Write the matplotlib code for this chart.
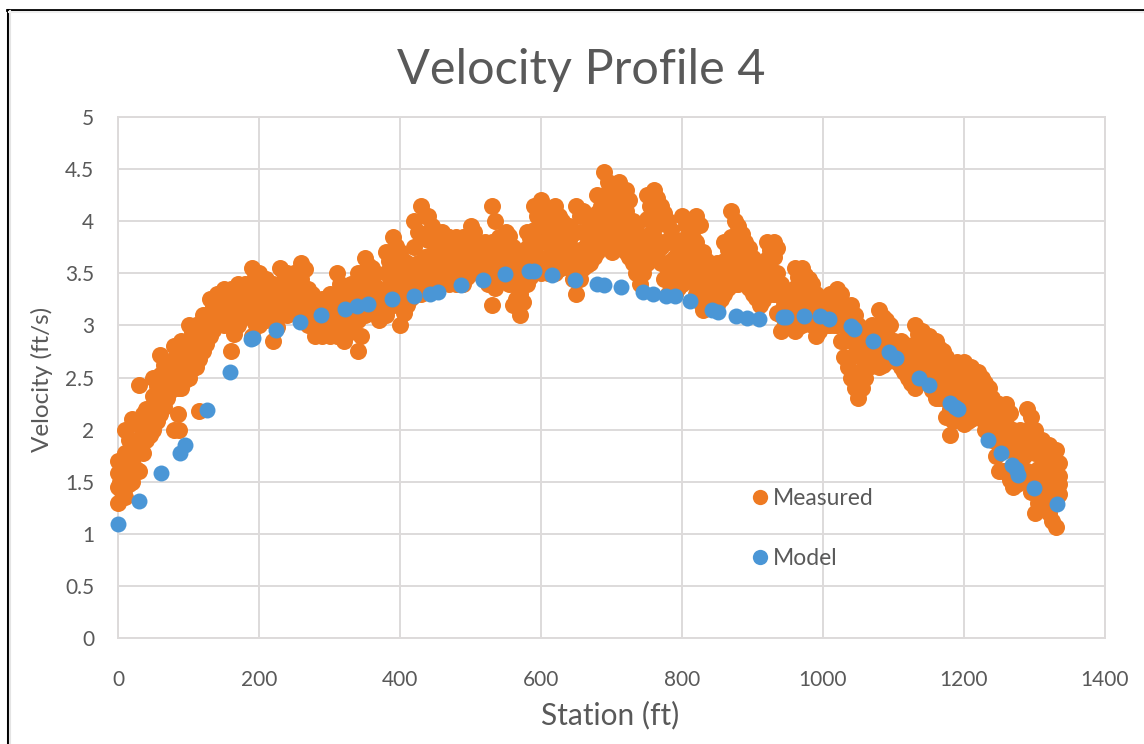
import matplotlib
matplotlib.use("Agg")
import matplotlib.pyplot as plt
from matplotlib.lines import Line2D

title = "Velocity Profile 4"
x_label = "Station (ft)"
y_label = "Velocity (ft/s)"
x_ticks = [0, 200, 400, 600, 800, 1000, 1200, 1400]
y_ticks = [0, 0.5, 1, 1.5, 2, 2.5, 3, 3.5, 4, 4.5, 5]
y_tick_labels = ["0", "0.5", "1", "1.5", "2", "2.5", "3", "3.5", "4", "4.5", "5"]

measured_station = [
    0, 10, 20, 30, 40, 50, 60, 70, 80, 90,
    100, 110, 120, 130, 140, 150, 160, 170, 180, 190,
    200, 210, 220, 230, 240, 250, 260, 270, 280, 290,
    300, 310, 320, 330, 340, 350, 360, 370, 380, 390,
    400, 410, 420, 430, 440, 450, 460, 470, 480, 490,
    500, 510, 520, 530, 540, 550, 560, 570, 580, 590,
    600, 610, 620, 630, 640, 650, 660, 670, 680, 690,
    700, 710, 720, 730, 740, 750, 760, 770, 780, 790,
    800, 810, 820, 830, 840, 850, 860, 870, 880, 890,
    900, 910, 920, 930, 940, 950, 960, 970, 980, 990,
    1000, 1010, 1020, 1030, 1040, 1050, 1060, 1070, 1080, 1090,
    1100, 1110, 1120, 1130, 1140, 1150, 1160, 1170, 1180, 1190,
    1200, 1210, 1220, 1230, 1240, 1250, 1260, 1270, 1280, 1290,
    1300, 1310, 1320, 1330,
]
measured_low = [
    1.30, 1.35, 1.50, 1.60, 1.90, 2.00, 2.15, 2.30, 2.00, 2.40,
    2.50, 2.60, 2.75, 2.90, 3.00, 3.00, 2.75, 3.00, 3.10, 2.90,
    3.00, 3.05, 2.85, 3.10, 3.10, 3.15, 3.20, 3.00, 2.90, 2.90,
    2.90, 2.90, 2.85, 3.00, 2.75, 3.10, 3.20, 3.05, 3.10, 3.20,
    3.00, 3.20, 3.30, 3.30, 3.35, 3.35, 3.50, 3.40, 3.40, 3.40,
    3.50, 3.50, 3.50, 3.20, 3.45, 3.50, 3.20, 3.10, 3.40, 3.50,
    3.50, 3.50, 3.50, 3.60, 3.55, 3.30, 3.55, 3.60, 3.70, 3.80,
    3.70, 3.80, 3.70, 3.60, 3.40, 3.60, 3.70, 3.60, 3.30, 3.30,
    3.40, 3.50, 3.30, 3.15, 3.20, 3.20, 3.30, 3.40, 3.40, 3.40,
    3.30, 3.20, 3.30, 3.30, 2.95, 3.00, 2.95, 3.00, 3.10, 2.90,
    3.00, 3.00, 3.00, 2.70, 2.50, 2.30, 2.50, 2.70, 2.60, 2.65,
    2.70, 2.60, 2.50, 2.40, 2.50, 2.45, 2.30, 2.30, 1.95, 2.20,
    2.05, 2.10, 2.20, 2.00, 1.90, 1.60, 1.60, 1.45, 1.50, 1.60,
    1.20, 1.40, 1.20, 1.07,
]
measured_lower_mid = [
    1.45, 1.55, 1.70, 1.85, 2.00, 2.15, 2.30, 2.42, 2.50, 2.55,
    2.65, 2.75, 2.90, 3.00, 3.08, 3.12, 3.05, 3.12, 3.18, 3.10,
    3.15, 3.18, 3.05, 3.22, 3.20, 3.25, 3.30, 3.10, 3.00, 3.02,
    3.02, 3.05, 3.00, 3.10, 3.05, 3.25, 3.30, 3.15, 3.25, 3.35,
    3.25, 3.30, 3.45, 3.50, 3.55, 3.50, 3.60, 3.52, 3.50, 3.52,
    3.60, 3.58, 3.60, 3.45, 3.55, 3.60, 3.40, 3.30, 3.55, 3.65,
    3.65, 3.62, 3.65, 3.70, 3.65, 3.55, 3.68, 3.70, 3.85, 3.95,
    3.85, 3.95, 3.85, 3.72, 3.55, 3.75, 3.85, 3.75, 3.50, 3.45,
    3.55, 3.60, 3.50, 3.30, 3.28, 3.30, 3.42, 3.55, 3.55, 3.50,
    3.40, 3.32, 3.42, 3.45, 3.10, 3.08, 3.10, 3.15, 3.20, 3.00,
    3.06, 3.08, 3.10, 2.85, 2.70, 2.55, 2.65, 2.78, 2.75, 2.75,
    2.76, 2.68, 2.60, 2.55, 2.65, 2.58, 2.45, 2.45, 2.20, 2.35,
    2.25, 2.28, 2.32, 2.15, 2.05, 1.85, 1.80, 1.65, 1.68, 1.78,
    1.50, 1.55, 1.45, 1.35,
]
measured_upper_mid = [
    1.58, 1.78, 1.90, 2.10, 2.10, 2.32, 2.52, 2.55, 2.68, 2.72,
    2.85, 2.88, 3.00, 3.12, 3.20, 3.25, 3.22, 3.28, 3.30, 3.32,
    3.35, 3.32, 3.25, 3.40, 3.36, 3.38, 3.45, 3.24, 3.14, 3.15,
    3.16, 3.25, 3.16, 3.26, 3.28, 3.48, 3.44, 3.26, 3.50, 3.62,
    3.50, 3.46, 3.75, 3.85, 3.82, 3.66, 3.76, 3.70, 3.68, 3.70,
    3.80, 3.68, 3.70, 3.80, 3.72, 3.78, 3.60, 3.52, 3.74, 3.92,
    3.95, 3.84, 3.92, 3.86, 3.82, 3.90, 3.90, 3.86, 4.08, 4.25,
    4.08, 4.20, 4.10, 3.88, 3.72, 4.02, 4.10, 3.98, 3.80, 3.66,
    3.82, 3.76, 3.80, 3.52, 3.40, 3.46, 3.62, 3.85, 3.78, 3.66,
    3.54, 3.46, 3.64, 3.66, 3.28, 3.20, 3.36, 3.38, 3.34, 3.18,
    3.14, 3.20, 3.24, 3.06, 3.00, 2.82, 2.82, 2.90, 2.98, 2.92,
    2.82, 2.78, 2.72, 2.82, 2.82, 2.76, 2.68, 2.62, 2.45, 2.52,
    2.48, 2.46, 2.46, 2.32, 2.20, 2.10, 2.05, 1.85, 1.85, 2.00,
    1.78, 1.75, 1.68, 1.60,
]
measured_high = [
    1.70, 2.00, 2.10, 2.43, 2.20, 2.50, 2.72, 2.65, 2.80, 2.85,
    3.00, 3.00, 3.10, 3.25, 3.30, 3.35, 3.35, 3.40, 3.40, 3.55,
    3.50, 3.45, 3.40, 3.55, 3.50, 3.50, 3.60, 3.35, 3.25, 3.25,
    3.30, 3.50, 3.30, 3.40, 3.50, 3.65, 3.55, 3.35, 3.70, 3.85,
    3.70, 3.60, 4.00, 4.15, 4.05, 3.80, 3.90, 3.85, 3.85, 3.85,
    3.95, 3.75, 3.80, 4.15, 3.85, 3.90, 3.75, 3.70, 3.90, 4.15,
    4.20, 4.00, 4.15, 4.00, 3.95, 4.15, 4.10, 4.00, 4.25, 4.47,
    4.30, 4.38, 4.30, 4.00, 3.85, 4.25, 4.30, 4.15, 4.00, 3.80,
    4.05, 3.90, 4.05, 3.70, 3.50, 3.60, 3.80, 4.10, 3.95, 3.80,
    3.65, 3.60, 3.80, 3.80, 3.40, 3.30, 3.55, 3.55, 3.45, 3.30,
    3.20, 3.30, 3.35, 3.20, 3.20, 3.00, 2.95, 3.00, 3.15, 3.05,
    2.85, 2.85, 2.80, 3.00, 2.95, 2.90, 2.85, 2.75, 2.65, 2.65,
    2.65, 2.60, 2.55, 2.45, 2.30, 2.25, 2.25, 2.00, 2.00, 2.20,
    2.00, 1.90, 1.85, 1.80,
]

# Second sweep of measured points, lying between the stations above
between_station = [
    5, 15, 25, 35, 45, 55, 65, 75, 85, 95,
    105, 115, 125, 135, 145, 155, 165, 175, 185, 195,
    205, 215, 225, 235, 245, 255, 265, 275, 285, 295,
    305, 315, 325, 335, 345, 355, 365, 375, 385, 395,
    405, 415, 425, 435, 445, 455, 465, 475, 485, 495,
    505, 515, 525, 535, 545, 555, 565, 575, 585, 595,
    605, 615, 625, 635, 645, 655, 665, 675, 685, 695,
    705, 715, 725, 735, 745, 755, 765, 775, 785, 795,
    805, 815, 825, 835, 845, 855, 865, 875, 885, 895,
    905, 915, 925, 935, 945, 955, 965, 975, 985, 995,
    1005, 1015, 1025, 1035, 1045, 1055, 1065, 1075, 1085, 1095,
    1105, 1115, 1125, 1135, 1145, 1155, 1165, 1175, 1185, 1195,
    1205, 1215, 1225, 1235, 1245, 1255, 1265, 1275, 1285, 1295,
    1305, 1315, 1325, 1335,
]
between_a = [
    1.40, 1.48, 1.62, 1.78, 1.95, 2.08, 2.22, 2.38, 2.40, 2.48,
    2.58, 2.68, 2.82, 2.96, 3.04, 3.06, 2.92, 3.06, 3.12, 3.02,
    3.06, 3.10, 2.98, 3.14, 3.15, 3.20, 3.12, 3.05, 2.96, 2.95,
    2.95, 2.96, 2.92, 3.04, 2.90, 3.16, 3.24, 3.10, 3.18, 3.26,
    3.12, 3.26, 3.36, 3.40, 3.42, 3.42, 3.52, 3.44, 3.44, 3.46,
    3.54, 3.52, 3.40, 3.36, 3.48, 3.40, 3.25, 3.22, 3.46, 3.55,
    3.54, 3.56, 3.54, 3.62, 3.45, 3.45, 3.58, 3.66, 3.76, 3.78,
    3.74, 3.76, 3.66, 3.50, 3.50, 3.64, 3.66, 3.45, 3.36, 3.36,
    3.46, 3.42, 3.22, 3.18, 3.22, 3.25, 3.36, 3.40, 3.42, 3.36,
    3.26, 3.24, 3.30, 3.12, 2.98, 2.98, 2.98, 3.05, 3.00, 2.95,
    3.00, 3.00, 2.85, 2.60, 2.40, 2.40, 2.60, 2.65, 2.62, 2.68,
    2.65, 2.55, 2.45, 2.45, 2.48, 2.38, 2.30, 2.12, 2.08, 2.12,
    2.08, 2.15, 2.10, 1.95, 1.75, 1.60, 1.52, 1.48, 1.55, 1.40,
    1.30, 1.30, 1.12, 1.38,
]
between_b = [
    1.55, 1.68, 1.80, 1.98, 2.05, 2.24, 2.40, 2.50, 2.60, 2.64,
    2.74, 2.82, 2.96, 3.06, 3.14, 3.18, 3.14, 3.20, 3.24, 3.20,
    3.24, 3.24, 3.18, 3.30, 3.28, 3.32, 3.30, 3.16, 3.08, 3.08,
    3.10, 3.14, 3.08, 3.18, 3.18, 3.36, 3.38, 3.20, 3.38, 3.48,
    3.38, 3.40, 3.60, 3.66, 3.68, 3.60, 3.66, 3.62, 3.60, 3.62,
    3.70, 3.62, 3.60, 3.60, 3.64, 3.66, 3.50, 3.44, 3.64, 3.78,
    3.80, 3.74, 3.78, 3.78, 3.72, 3.72, 3.78, 3.80, 3.96, 4.10,
    3.98, 4.08, 3.96, 3.78, 3.66, 3.88, 3.96, 3.80, 3.62, 3.58,
    3.68, 3.66, 3.60, 3.40, 3.34, 3.38, 3.52, 3.68, 3.64, 3.56,
    3.46, 3.40, 3.54, 3.50, 3.20, 3.16, 3.24, 3.26, 3.24, 3.08,
    3.10, 3.14, 3.14, 2.95, 2.82, 2.70, 2.74, 2.84, 2.86, 2.82,
    2.78, 2.72, 2.66, 2.68, 2.72, 2.66, 2.56, 2.50, 2.34, 2.42,
    2.38, 2.38, 2.38, 2.24, 2.12, 1.95, 1.92, 1.74, 1.75, 1.86,
    1.62, 1.64, 1.55, 1.48,
]
between_c = [
    1.66, 1.90, 2.05, 2.15, 2.18, 2.42, 2.62, 2.62, 2.75, 2.80,
    2.94, 2.96, 3.06, 3.20, 3.26, 3.32, 3.30, 3.36, 3.36, 3.46,
    3.44, 3.40, 3.36, 3.50, 3.46, 3.46, 3.54, 3.30, 3.20, 3.22,
    3.26, 3.40, 3.24, 3.34, 3.42, 3.58, 3.50, 3.30, 3.62, 3.76,
    3.62, 3.56, 3.90, 4.05, 3.95, 3.75, 3.86, 3.80, 3.78, 3.80,
    3.90, 3.72, 3.76, 4.00, 3.80, 3.86, 3.68, 3.62, 3.84, 4.05,
    4.10, 3.94, 4.05, 3.94, 3.90, 4.05, 4.04, 3.94, 4.15, 4.38,
    4.20, 4.30, 4.20, 3.95, 3.78, 4.15, 4.22, 4.08, 3.92, 3.74,
    3.96, 3.84, 3.96, 3.62, 3.46, 3.54, 3.72, 4.00, 3.88, 3.74,
    3.60, 3.54, 3.72, 3.74, 3.34, 3.26, 3.46, 3.48, 3.40, 3.24,
    3.18, 3.26, 3.30, 3.14, 3.10, 2.92, 2.90, 2.96, 3.08, 3.00,
    2.84, 2.82, 2.76, 2.92, 2.88, 2.84, 2.78, 2.70, 2.56, 2.60,
    2.58, 2.54, 2.50, 2.40, 2.26, 2.20, 2.16, 1.94, 1.94, 2.12,
    1.90, 1.84, 1.78, 1.68,
]
# Isolated measured points that sit outside the main band
outlier_station = [85, 87, 115, 1335, 1332, 3, 5, 8]
outlier_velocity = [2.15, 2.00, 2.18, 1.55, 1.35, 1.50, 1.60, 1.42]

model_station = [
    0, 30, 61, 88, 95, 126, 159, 189, 192, 224, 258, 288, 322, 339, 355, 389,
    420, 442, 454, 487, 518, 549, 583, 590, 616, 648, 680, 690, 713, 745, 759,
    777, 790, 811, 843, 851, 877, 892, 909, 943, 948, 973, 996, 1008, 1040,
    1044, 1071, 1094, 1104, 1136, 1150, 1180, 1187, 1191, 1234, 1252, 1268,
    1274, 1277, 1299, 1332,
]
model_velocity = [
    1.09, 1.31, 1.58, 1.78, 1.85, 2.19, 2.55, 2.87, 2.88, 2.96, 3.03, 3.10,
    3.16, 3.19, 3.21, 3.25, 3.28, 3.30, 3.32, 3.39, 3.44, 3.49, 3.52, 3.52,
    3.48, 3.44, 3.40, 3.39, 3.37, 3.32, 3.30, 3.28, 3.28, 3.23, 3.15, 3.13,
    3.09, 3.07, 3.06, 3.08, 3.08, 3.09, 3.09, 3.06, 2.99, 2.97, 2.85, 2.74,
    2.69, 2.50, 2.43, 2.26, 2.22, 2.20, 1.90, 1.78, 1.66, 1.62, 1.56, 1.44,
    1.29,
]

ORANGE = "#EE7A22"
BLUE = "#4A96D6"
TEXT = "#595959"
GRID = "#DDDADA"

W, H = 1144, 744
fig = plt.figure(figsize=(W / 100, H / 100), dpi=100, facecolor="white")
ax = fig.add_axes([118 / W, 1 - 638 / H, (1105 - 118) / W, (638 - 117) / H])
ax.set_xlim(0, 1400)
ax.set_ylim(0, 5)
ax.set_xticks(x_ticks)
ax.set_yticks(y_ticks)
ax.set_yticklabels(y_tick_labels)
ax.grid(True, color=GRID, linewidth=1.4)
ax.set_axisbelow(True)
for s in ax.spines.values():
    s.set_color(GRID)
    s.set_linewidth(1.4)
ax.tick_params(axis="x", length=0, pad=23, labelsize=15, labelcolor=TEXT)
ax.tick_params(axis="y", length=0, pad=17, labelsize=15, labelcolor=TEXT)
for lab in ax.get_xticklabels() + ax.get_yticklabels():
    lab.set_family("Lato")

kw = dict(s=150, color=ORANGE, linewidths=0, clip_on=False, zorder=3)
for series in (measured_low, measured_lower_mid, measured_upper_mid, measured_high):
    ax.scatter(measured_station, series, **kw)
for series in (between_a, between_b, between_c):
    ax.scatter(between_station, series, **kw)
ax.scatter(outlier_station, outlier_velocity, **kw)
ax.scatter(model_station, model_velocity, s=132, color=BLUE, linewidths=0,
           clip_on=False, zorder=4)

fig.text(581 / W, 1 - 70 / H, title, ha="center", va="center", fontsize=35,
         color=TEXT, family="Lato")
fig.text(610 / W, 1 - 715 / H, x_label, ha="center", va="center", fontsize=21.5,
         color=TEXT, family="Lato")
fig.text(42 / W, 1 - 379 / H, y_label, ha="center", va="center", rotation=90,
         fontsize=17.5, color=TEXT, family="Lato")

handles = [
    Line2D([], [], ls="", marker="o", ms=11, mfc=ORANGE, mec="none", label="Measured"),
    Line2D([], [], ls="", marker="o", ms=11, mfc=BLUE, mec="none", label="Model"),
]
ax.legend(handles=handles, loc="upper left",
          bbox_to_anchor=((737 - 118) / (1105 - 118), (638 - 488) / (638 - 117)),
          frameon=False, labelspacing=1.72, handletextpad=-0.42,
          prop={"family": "Lato", "size": 16.5}, labelcolor=TEXT, borderpad=0,
          borderaxespad=0)

# Screenshot frame: black on the top and left, soft grey inside it
fig.add_artist(Line2D([7.5 / W, 7.5 / W], [0, 1 - 9.5 / H], color="black", lw=2.2))
fig.add_artist(Line2D([7 / W, 1], [1 - 9.5 / H, 1 - 9.5 / H], color="black", lw=2))
fig.add_artist(Line2D([10 / W, 10 / W], [0, 1 - 11 / H], color="#E4E4E4", lw=1.5))
fig.add_artist(Line2D([9 / W, 1], [1 - 11.5 / H, 1 - 11.5 / H], color="#EEEEEE", lw=1.5))

fig.savefig("out.png", dpi=100, facecolor="white")
